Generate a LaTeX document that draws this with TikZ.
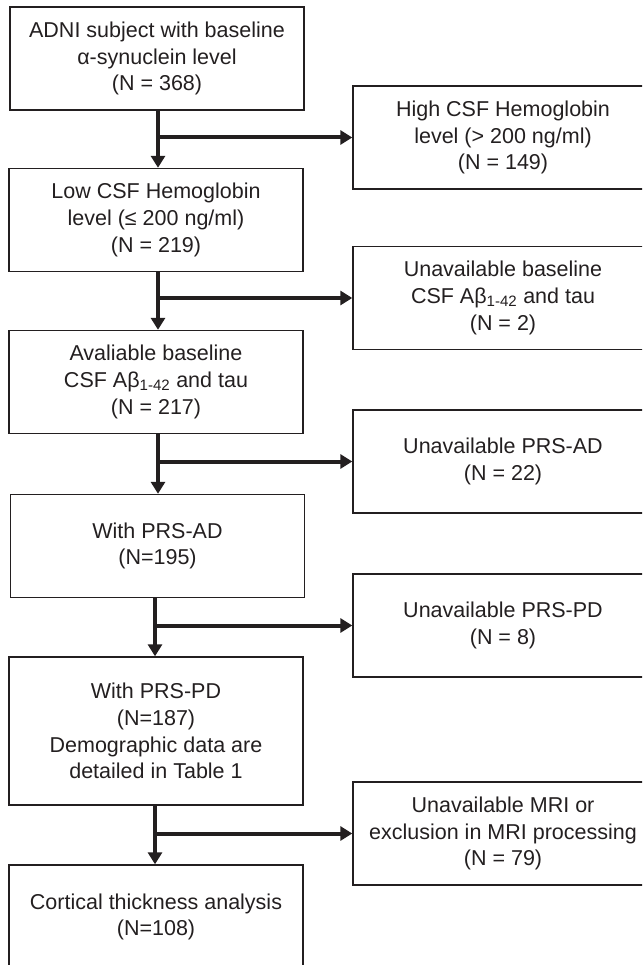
\documentclass[tikz,border=0pt]{standalone}
\usepackage{fontspec}
\setmainfont{Liberation Sans}
\usetikzlibrary{arrows.meta}
\definecolor{ink}{HTML}{231F20}
\begin{document}
\begin{tikzpicture}[x=1pt,y=-1pt,
  box/.style={draw=ink, line width=1.4pt, minimum width=294pt, minimum height=103pt,
    align=center, text=ink, inner sep=0pt, font=\fontsize{21.5}{26.7}\selectfont},
  rbox/.style={box, minimum width=300pt},
  flow/.style={draw=ink, line width=4pt, -{Triangle[length=12pt,width=14pt]}}]
\useasboundingbox (0,0) rectangle (642,965);
\clip (0,0) rectangle (642,965);
% main column
\node[box] (b1) at (157,58.5) {ADNI subject with baseline\\α-synuclein level\\(N = 368)};
\node[box] (b2) at (156,220) {Low CSF Hemoglobin\\level (≤ 200 ng/ml)\\(N = 219)};
\node[box] (b3) at (156,382) {Avaliable baseline\\CSF Aβ\textsubscript{1-42} and tau\\(N = 217)};
\node[box] (b4) at (157.5,546) {With PRS-AD\\(N=195)};
\node[box, minimum height=148pt] (b5) at (156,731) {With PRS-PD\\(N=187)\\Demographic data are\\detailed in Table 1};
\node[box, minimum height=104pt] (b6) at (156,917) {Cortical thickness analysis\\(N=108)};
% exclusions
\node[rbox] (r1) at (503,137.5) {High CSF Hemoglobin\\level (> 200 ng/ml)\\(N = 149)};
\node[rbox] (r2) at (503,298) {Unavailable baseline\\CSF Aβ\textsubscript{1-42} and tau\\(N = 2)};
\node[rbox] (r3) at (503,461.5) {Unavailable PRS-AD\\(N = 22)};
\node[rbox] (r4) at (503,625.5) {Unavailable PRS-PD\\(N = 8)};
\node[rbox] (r5) at (503,833.5) {Unavailable MRI or\\exclusion in MRI processing\\(N = 79)};
% connectors
\draw[flow] ([xshift=1pt]b1.south) -- ([xshift=1pt]b1.south |- b2.north);
\draw[flow] ([xshift=1pt]b1.south |- r1.west) -- (r1.west);
\draw[flow] ([xshift=2pt]b2.south) -- ([xshift=2pt]b2.south |- b3.north);
\draw[flow] ([xshift=2pt]b2.south |- r2.west) -- (r2.west);
\draw[flow] ([xshift=2pt]b3.south) -- ([xshift=2pt]b3.south |- b4.north);
\draw[flow] ([xshift=2pt]b3.south |- r3.west) -- (r3.west);
\draw[flow] ([xshift=-2.5pt]b4.south) -- ([xshift=-2.5pt]b4.south |- b5.north);
\draw[flow] ([xshift=-2.5pt]b4.south |- r4.west) -- (r4.west);
\draw[flow] ([xshift=-1pt]b5.south) -- ([xshift=-1pt]b5.south |- b6.north);
\draw[flow] ([xshift=-1pt]b5.south |- r5.west) -- (r5.west);
\end{tikzpicture}
\end{document}
